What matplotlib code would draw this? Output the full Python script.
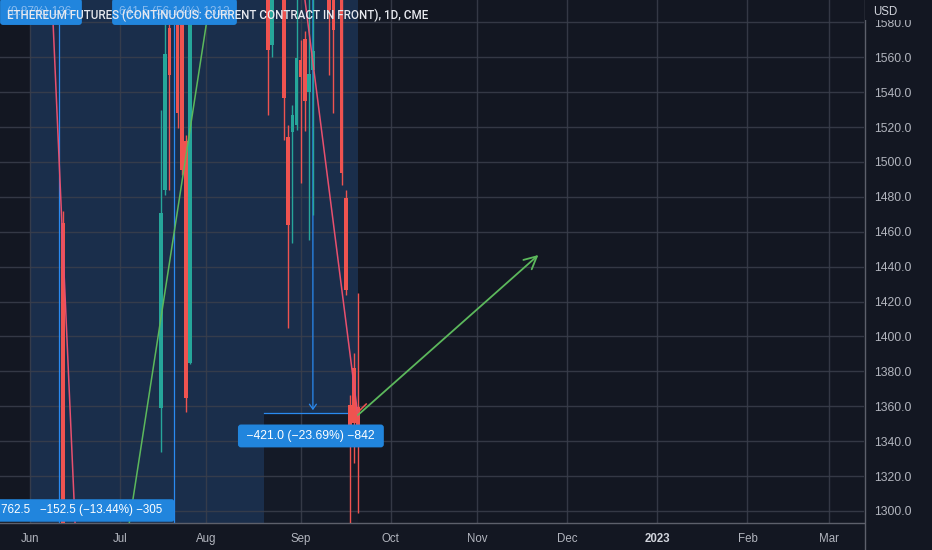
import numpy as np
import matplotlib
matplotlib.use('Agg')
import matplotlib.pyplot as plt
from matplotlib.lines import Line2D
from matplotlib.patches import Rectangle

# ---------------- data ----------------
dates = ['2022-06-13', '2022-07-15', '2022-07-18', '2022-07-19', '2022-07-21',
         '2022-07-22', '2022-07-25', '2022-07-26', '2022-08-22', '2022-08-23',
         '2022-08-26', '2022-08-29', '2022-08-30', '2022-08-31', '2022-09-01',
         '2022-09-02', '2022-09-05', '2022-09-06', '2022-09-12', '2022-09-13',
         '2022-09-15', '2022-09-16', '2022-09-19', '2022-09-20', '2022-09-21']
opens = [1465.0, 1359.0, 1484.0, 1576.8, 1610.0, 1620.0, 1512.0, 1384.8, 1620.0, 1567.0,
         1620.0, 1514.3, 1517.2, 1521.2, 1558.5, 1570.5, 1540.1, 1552.7, 1610.0, 1610.0,
         1610.0, 1479.4, 1360.7, 1381.9, 1359.6]
highs = [1471.9, 1529.8, 1610.0, 1610.0, 1620.0, 1630.0, 1515.5, 1630.0, 1630.0, 1630.0,
         1630.0, 1521.2, 1532.7, 1610.0, 1570.0, 1575.0, 1610.0, 1610.0, 1620.0, 1620.0,
         1620.0, 1484.0, 1366.5, 1390.5, 1424.9]
lows = [1270.0, 1333.8, 1481.1, 1484.0, 1519.5, 1492.6, 1356.7, 1384.0, 1526.9, 1560.2,
        1512.6, 1404.9, 1453.6, 1518.3, 1488.0, 1518.0, 1455.0, 1469.6, 1549.9, 1528.0,
        1486.8, 1423.8, 1270.0, 1327.5, 1298.9]
closes = [1283.0, 1470.8, 1561.9, 1549.9, 1528.1, 1495.4, 1364.8, 1620.0, 1564.2, 1620.0,
          1536.7, 1463.9, 1526.9, 1559.6, 1548.7, 1535.0, 1550.4, 1563.6, 1587.1, 1575.6,
          1493.7, 1426.6, 1339.0, 1350.4, 1349.3]

month_dates = ['2022-06-01', '2022-07-01', '2022-08-01', '2022-09-01', '2022-10-03',
               '2022-11-01', '2022-12-01', '2023-01-02', '2023-02-01', '2023-03-01']
month_labels = ['Jun', 'Jul', 'Aug', 'Sep', 'Oct', 'Nov', 'Dec', '2023', 'Feb', 'Mar']
price_ticks = [1300, 1320, 1340, 1360, 1380, 1400, 1420, 1440, 1460, 1480,
               1500, 1520, 1540, 1560, 1580]
price_labels = ['1300.0', '1320.0', '1340.0', '1360.0', '1380.0', '1400.0', '1420.0',
                '1440.0', '1460.0', '1480.0', '1500.0', '1520.0', '1540.0', '1560.0',
                '1580.0']

# drawings (date, price anchors)
trend_down_1_dates = ['2022-06-08', '2022-06-16']
trend_down_1_prices = [1613.2, 1292.6]
trend_up_dates = ['2022-07-05', '2022-08-03']
trend_up_prices = [1289.8, 1609.4]
trend_down_2_dates = ['2022-09-02', '2022-09-21']
trend_down_2_prices = [1594.0, 1354.0]
projection_dates = ['2022-09-21', '2022-11-22']
projection_prices = [1355.0, 1446.7]
tick_mark_dates = ['2022-09-21', '2022-09-23']
tick_mark_prices = [1356.7, 1361.3]

range_dates = ['2022-06-01', '2022-09-21']
measure_v_dates = ['2022-06-10', '2022-07-20']
measure2_date = '2022-09-06'
measure2_range_dates = ['2022-08-19', '2022-09-21']
measure2_level = 1356.2

label_main = '\u2212421.0 (\u221223.69%) \u2212842'
label_main_date, label_main_price = '2022-09-06', 1343.0
label_low = '762.5   \u2212152.5 (\u221213.44%) \u2212305'
label_low_date, label_low_price = '2022-07-15', 1300.3
label_top1 = '(0.87%) 136'
label_top1_date, label_top1_price = '2022-06-13', 1586.0
label_top2 = '641.5 (56.14%) 1313'
label_top2_date, label_top2_price = '2022-07-20', 1586.0

title = 'ETHEREUM FUTURES (CONTINUOUS: CURRENT CONTRACT IN FRONT), 1D, CME'

# ---------------- helpers ----------------
BASE = np.datetime64('2022-06-01')


def bar(d):
    return np.busday_count(BASE, np.array(d, dtype='datetime64[D]'))


BG = '#131722'
TEAL = '#26a69a'
RED = '#ef5350'
BLUE = '#2a8af0'
BOX = '#2185dd'
GREEN = '#5cb85c'
PINK = '#e8506e'
TXT = '#b2b5be'

W, H = 932, 550
fig = plt.figure(figsize=(W / 100, H / 100), dpi=100, facecolor=BG)
ax = fig.add_axes([0, 27 / H, 864 / W, 523 / H])
ax.set_facecolor(BG)

ax.set_xlim(-30 / 4.1, 834 / 4.1)
ax.set_ylim(1293.12, 1592.8)

# shaded date-range region and inner box
r0, r1 = bar(range_dates)
ax.axvspan(r0, r1, color='#1a2e4b', zorder=0.2, lw=0)
m0, m1 = bar(measure2_range_dates)
ax.add_patch(Rectangle((m0, 1200), m1 - m0, measure2_level - 1200,
                       facecolor='#141a27', edgecolor='none', zorder=0.3))

# grid
ax.set_axisbelow(True)
ax.set_xticks(bar(month_dates))
ax.set_xticklabels(month_labels)
ax.set_yticks(price_ticks)
ax.set_yticklabels(price_labels)
ax.grid(True, color='#3a3f4c', lw=1.0, alpha=0.85)

ax.yaxis.tick_right()
ax.tick_params(axis='y', length=0, pad=7, labelcolor=TXT, labelsize=8.7)
ax.tick_params(axis='x', length=0, pad=7.5, labelcolor=TXT, labelsize=8.3)
for lab in ax.get_yticklabels() + ax.get_xticklabels():
    lab.set_fontfamily('Liberation Sans')
for lab in ax.get_xticklabels():
    if lab.get_text() == '2023':
        lab.set_fontweight('bold')
        lab.set_color('#d1d4dc')

for s in ['top', 'left', 'right']:
    ax.spines[s].set_visible(False)
ax.spines['bottom'].set_color('#5d606b')
ax.spines['bottom'].set_linewidth(1.0)

# measure lines
for d in measure_v_dates:
    ax.axvline(bar(d), color=BLUE, lw=0.9, zorder=2)
mx = bar(measure2_date)
ax.annotate('', xy=(mx, measure2_level), xytext=(mx, 1600),
            arrowprops=dict(arrowstyle='->,head_length=0.35,head_width=0.25',
                            color=BLUE, lw=0.9), zorder=2)
ax.plot([m0, m1], [measure2_level, measure2_level], color=BLUE, lw=0.9, zorder=2)

# candles
x = bar(dates)
o = np.array(opens)
c = np.array(closes)
cols = np.where(c >= o, TEAL, RED)
ax.vlines(x, lows, highs, colors=cols, lw=1.0, zorder=3)
ax.bar(x, np.abs(c - o), bottom=np.minimum(o, c), width=0.9, color=cols, zorder=3.1)

# trend lines
ax.plot(bar(trend_down_1_dates), trend_down_1_prices, color=PINK, lw=1.1, zorder=4)
ax.plot(bar(trend_up_dates), trend_up_prices, color=GREEN, lw=1.1, zorder=4)
ax.plot(bar(trend_down_2_dates), trend_down_2_prices, color=PINK, lw=1.1, zorder=4)
ax.plot(bar(tick_mark_dates), tick_mark_prices, color=RED, lw=1.1, zorder=4)
pd_ = bar(projection_dates)
ax.annotate('', xy=(pd_[1], projection_prices[1]), xytext=(pd_[0], projection_prices[0]),
            arrowprops=dict(arrowstyle='->,head_length=0.9,head_width=0.45',
                            color=GREEN, lw=1.3, shrinkA=0, shrinkB=0), zorder=4)

# labels
box = dict(boxstyle='round,pad=0.45,rounding_size=0.25', facecolor=BOX, edgecolor='none')
ax.annotate(' ' + label_main + ' ', xy=(bar(label_main_date), label_main_price),
            xytext=(-2, 0), textcoords='offset pixels', ha='center', va='center',
            color='white', fontsize=8.7, fontfamily='Liberation Sans', bbox=box, zorder=5)
ax.annotate(label_low + '  ', xy=(bar(label_low_date), label_low_price),
            xytext=(8, 0), textcoords='offset pixels', ha='right', va='center',
            color='white', fontsize=8.4, fontfamily='Liberation Sans', bbox=box,
            zorder=5, annotation_clip=False)
box2 = dict(boxstyle='round,pad=0.6,rounding_size=0.25', facecolor=BOX, edgecolor='none')
ax.annotate(label_top1 + ' ', xy=(bar(label_top1_date), label_top1_price),
            xytext=(12, 0), textcoords='offset pixels', ha='right', va='center',
            color='#a9cdf5', alpha=0.75, fontsize=8.5, fontfamily='Liberation Sans',
            bbox=box2, zorder=5, annotation_clip=False)
ax.annotate(label_top2, xy=(bar(label_top2_date), label_top2_price),
            xytext=(1, 0), textcoords='offset pixels', ha='center', va='center',
            color='#a9cdf5', alpha=0.75, fontsize=8.5, fontfamily='Liberation Sans',
            bbox=box2, zorder=5, annotation_clip=False)

# title
fig.text(7 / W, 1 - 15 / H, title, ha='left', va='center', color='#e6e8ee',
         fontsize=8.4, fontfamily='Roboto', fontweight='medium', zorder=10)

# right panel separator & USD
fig.add_artist(Line2D([864.5 / W, 864.5 / W], [0, 1], color='#5d606b', lw=1.0))
fig.add_artist(Rectangle((865 / W, 1 - 20 / H), 67 / W, 20 / H, transform=fig.transFigure,
                         facecolor=BG, edgecolor='none', zorder=5))
fig.text(873 / W, 1 - 12 / H, 'USD', ha='left', va='center', color='#d1d4dc',
         fontsize=8.3, fontfamily='Liberation Sans', zorder=10)

fig.savefig('out.png', dpi=100, facecolor=BG)
